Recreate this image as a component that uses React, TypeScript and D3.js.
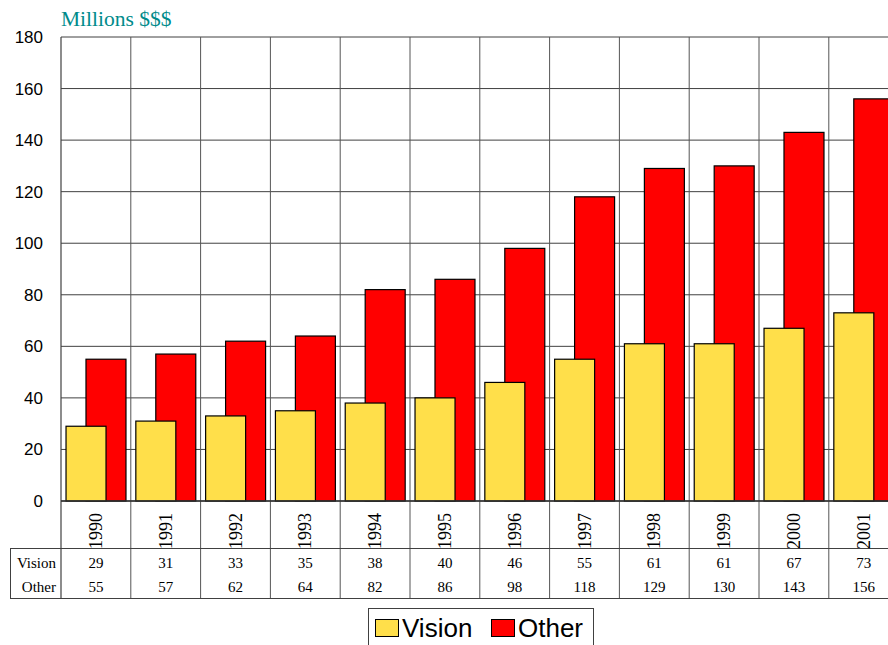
import { useEffect, useRef } from "react";
import * as d3 from "d3";

const years = ["1990", "1991", "1992", "1993", "1994", "1995", "1996", "1997", "1998", "1999", "2000", "2001"];
const vision = [29, 31, 33, 35, 38, 40, 46, 55, 61, 61, 67, 73];
const other = [55, 57, 62, 64, 82, 86, 98, 118, 129, 130, 143, 156];
const yTicks = [0, 20, 40, 60, 80, 100, 120, 140, 160, 180];

const VISION_FILL = "#ffdf4a";
const OTHER_FILL = "#ff0000";
const SERIF = "'Liberation Serif', 'Times New Roman', serif";
const SANS = "'Liberation Sans', Arial, sans-serif";

export default function App() {
  const svgRef = useRef<SVGSVGElement>(null);

  useEffect(() => {
    const el = svgRef.current;
    if (!el) return;
    const svg = d3.select(el);
    svg.selectAll("*").remove();

    const left = 61;
    const top = 37;
    const bottom = 501;
    const step = 69.8;
    const right = left + step * years.length;

    const x = d3.scaleBand().domain(years).range([left, right]).padding(0);
    const y = d3.scaleLinear().domain([0, 180]).range([bottom, top]);
    const bw = x.bandwidth();
    const barW = bw * 0.573;

    // title
    svg
      .append("text")
      .attr("x", 61)
      .attr("y", 26)
      .attr("fill", "#008b8b")
      .style("font-family", SERIF)
      .style("font-size", "21.5px")
      .text("Millions $$$");

    // horizontal grid
    svg
      .append("g")
      .selectAll("line")
      .data(yTicks)
      .enter()
      .append("line")
      .attr("x1", left)
      .attr("x2", right)
      .attr("y1", (d) => y(d))
      .attr("y2", (d) => y(d))
      .attr("stroke", "#404040")
      .attr("stroke-width", 1);

    // vertical grid (category boundaries), through the table
    svg
      .append("g")
      .selectAll("line")
      .data(years.slice(1))
      .enter()
      .append("line")
      .attr("x1", (d) => x(d)!)
      .attr("x2", (d) => x(d)!)
      .attr("y1", top)
      .attr("y2", 598)
      .attr("stroke", "#555")
      .attr("stroke-width", 1);

    // y tick labels
    svg
      .append("g")
      .selectAll("text")
      .data(yTicks)
      .enter()
      .append("text")
      .attr("x", 43)
      .attr("y", (d) => y(d) + 6)
      .attr("text-anchor", "end")
      .style("font-family", SANS)
      .style("font-size", "17px")
      .text((d) => d);

    // bars: Other behind, Vision in front
    svg
      .append("g")
      .selectAll("rect")
      .data(other)
      .enter()
      .append("rect")
      .attr("x", (_, i) => x(years[i])! + bw * 0.358)
      .attr("y", (d) => y(d))
      .attr("width", barW)
      .attr("height", (d) => bottom - y(d))
      .attr("fill", OTHER_FILL)
      .attr("stroke", "#000")
      .attr("stroke-width", 1.2);

    svg
      .append("g")
      .selectAll("rect")
      .data(vision)
      .enter()
      .append("rect")
      .attr("x", (_, i) => x(years[i])! + bw * 0.072)
      .attr("y", (d) => y(d))
      .attr("width", barW)
      .attr("height", (d) => bottom - y(d))
      .attr("fill", VISION_FILL)
      .attr("stroke", "#000")
      .attr("stroke-width", 1.2);

    // plot frame
    svg
      .append("line")
      .attr("x1", left)
      .attr("x2", left)
      .attr("y1", top)
      .attr("y2", 598)
      .attr("stroke", "#404040")
      .attr("stroke-width", 1.2);
    svg
      .append("line")
      .attr("x1", left)
      .attr("x2", right)
      .attr("y1", bottom)
      .attr("y2", bottom)
      .attr("stroke", "#303030")
      .attr("stroke-width", 1.5);

    // table lines
    svg
      .append("line")
      .attr("x1", 10)
      .attr("x2", right)
      .attr("y1", 548.5)
      .attr("y2", 548.5)
      .attr("stroke", "#404040");
    svg
      .append("line")
      .attr("x1", 10)
      .attr("x2", right)
      .attr("y1", 598.5)
      .attr("y2", 598.5)
      .attr("stroke", "#404040");
    svg
      .append("line")
      .attr("x1", 10.5)
      .attr("x2", 10.5)
      .attr("y1", 548)
      .attr("y2", 598)
      .attr("stroke", "#404040");

    // year labels
    svg
      .append("g")
      .selectAll("text")
      .data(years)
      .enter()
      .append("text")
      .attr("transform", (d) => `translate(${x(d)! + bw / 2 + 6},513) rotate(-90)`)
      .attr("text-anchor", "end")
      .style("font-family", SERIF)
      .style("font-size", "18px")
      .text((d) => d);

    // table rows
    const rows = [
      { label: "Vision", vals: vision, yy: 568 },
      { label: "Other", vals: other, yy: 592 },
    ];
    rows.forEach((r) => {
      svg
        .append("text")
        .attr("x", 56)
        .attr("y", r.yy)
        .attr("text-anchor", "end")
        .style("font-family", SERIF)
        .style("font-size", "15px")
        .text(r.label);
      svg
        .append("g")
        .selectAll("text")
        .data(r.vals)
        .enter()
        .append("text")
        .attr("x", (_, i) => x(years[i])! + bw / 2)
        .attr("y", r.yy)
        .attr("text-anchor", "middle")
        .style("font-family", SERIF)
        .style("font-size", "15px")
        .text((d) => d);
    });

    // legend
    const lg = svg.append("g");
    lg.append("rect")
      .attr("x", 368.5)
      .attr("y", 608.5)
      .attr("width", 225)
      .attr("height", 50)
      .attr("fill", "#fff")
      .attr("stroke", "#404040");
    const items = [
      { label: "Vision", fill: VISION_FILL, x0: 375 },
      { label: "Other", fill: OTHER_FILL, x0: 491 },
    ];
    items.forEach((it) => {
      lg.append("rect")
        .attr("x", it.x0 + 0.5)
        .attr("y", 619.5)
        .attr("width", 23)
        .attr("height", 17)
        .attr("fill", it.fill)
        .attr("stroke", "#000");
      lg.append("text")
        .attr("x", it.x0 + 27)
        .attr("y", 637)
        .style("font-family", SANS)
        .style("font-size", "26px")
        .text(it.label);
    });
  }, []);

  return (
    <svg
      ref={svgRef}
      width={888}
      height={645}
      style={{ position: "absolute", left: 0, top: 0, background: "#fff" }}
    />
  );
}
